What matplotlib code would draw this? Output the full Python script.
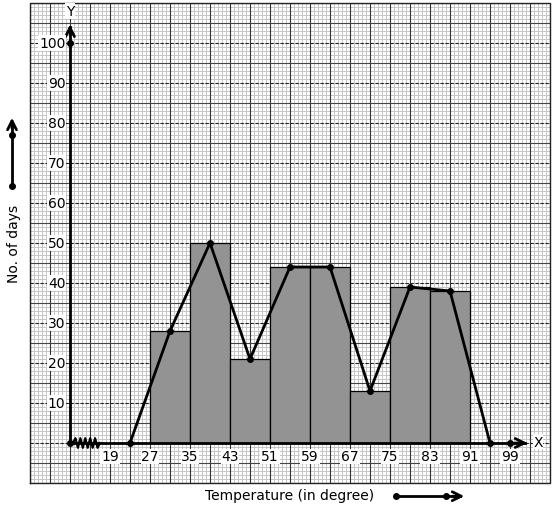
import numpy as np
import matplotlib.pyplot as plt

# class intervals (temperature) and frequencies (no. of days)
edges = [27, 35, 43, 51, 59, 67, 75, 83, 91]
days = [28, 50, 21, 44, 44, 13, 39, 38]
# frequency polygon: class marks plus the empty classes at each end
marks = [23, 31, 39, 47, 55, 63, 71, 79, 87, 95]
poly_days = [0, 28, 50, 21, 44, 44, 13, 39, 38, 0]
xticks = [19, 27, 35, 43, 51, 59, 67, 75, 83, 91, 99]
yticks = [10, 20, 30, 40, 50, 60, 70, 80, 90, 100]

x0 = 11      # where the (broken) x axis starts
xmin, xmax = 3, 107
ymin, ymax = -10, 110

fig = plt.figure(figsize=(5.54, 5.10), dpi=100)
ax = fig.add_axes([30/554, 26/510, 520/554, 480/510])
ax.set_xlim(xmin, xmax)
ax.set_ylim(ymin, ymax)
ax.axis('off')

# graph paper
for v in np.arange(xmin, xmax + 0.01, 0.8):
    ax.axvline(v, color='#c6c6c6', lw=0.7, zorder=0)
for v in np.arange(ymin, ymax + 0.01, 1):
    ax.axhline(v, color='#c6c6c6', lw=0.7, zorder=0)
for v in np.arange(xmin, xmax + 0.01, 4):
    ax.axvline(v, color='#333333', lw=0.8, zorder=0.5)
for v in np.arange(ymin, ymax + 0.01, 5):
    if v % 10 == 0:
        ax.axhline(v, color='#222222', lw=0.8, ls=(0, (3, 1.5)), zorder=0.5)
    else:
        ax.axhline(v, color='#444444', lw=0.8, zorder=0.5)
ax.plot([xmin, xmax, xmax, xmin, xmin], [ymin, ymin, ymax, ymax, ymin],
        color='#222222', lw=1, zorder=0.6, clip_on=False)

# histogram
ax.bar(edges[:-1], days, width=np.diff(edges), align='edge',
       color='#939393', edgecolor='black', lw=0.9, zorder=2)

# axes
ax.plot([x0, 102], [0, 0], color='black', lw=2, zorder=3)
ax.plot([x0, x0], [0, 104], color='black', lw=2, zorder=3)
ax.annotate('', xy=(103, 0), xytext=(99.5, 0),
            arrowprops=dict(arrowstyle='->', lw=2, mutation_scale=16), zorder=3)
ax.annotate('', xy=(x0, 105.3), xytext=(x0, 101.5),
            arrowprops=dict(arrowstyle='->', lw=2, mutation_scale=16), zorder=3)
ax.text(104.6, 0.3, 'X', ha='center', va='center', fontsize=10,
        bbox=dict(fc='white', ec='none', pad=0.5), zorder=4)
ax.text(x0, 108, 'Y', ha='center', va='center', fontsize=10,
        bbox=dict(fc='white', ec='none', pad=0.5), zorder=4)

# kink on the x axis
zx = np.linspace(11.6, 17, 12)
zy = np.array([0] + [1.2, -1.2] * 5 + [0])
ax.plot(zx, zy, color='black', lw=1.6, zorder=3)

# frequency polygon
ax.plot(marks, poly_days, color='black', lw=2, marker='o', ms=4, zorder=4)
ax.plot([x0, 99], [0, 0], 'o', color='black', ms=4, zorder=4)
ax.plot([x0], [100], 'o', color='black', ms=4, zorder=4)

# tick labels
for t in xticks:
    ax.text(t, -3.3, str(t), ha='center', va='center', fontsize=10,
            bbox=dict(fc='white', ec='none', pad=0.5), zorder=4)
for t in yticks:
    ax.text(x0 - 0.9, t, str(t), ha='right', va='center', fontsize=10,
            bbox=dict(fc='white', ec='none', pad=0.5), zorder=4)

# axis titles with their little arrows
ax.text(-0.2, 50, 'No. of days', rotation=90, ha='center', va='center',
        fontsize=10, clip_on=False)
ax.text(55, -13, 'Temperature (in degree)', ha='center', va='center',
        fontsize=10, clip_on=False)
ax.plot([-0.6, -0.6], [64.3, 80], color='black', lw=2, clip_on=False)
ax.plot([-0.6, -0.6], [64.3, 77], 'o', color='black', ms=4, clip_on=False)
ax.annotate('', xy=(-0.6, 82), xytext=(-0.6, 78), annotation_clip=False,
            arrowprops=dict(arrowstyle='->', lw=2, mutation_scale=16))
ax.plot([76.2, 89], [-13.3, -13.3], color='black', lw=2, clip_on=False)
ax.plot([76.2, 86.2], [-13.3, -13.3], 'o', color='black', ms=4, clip_on=False)
ax.annotate('', xy=(90.4, -13.3), xytext=(87, -13.3), annotation_clip=False,
            arrowprops=dict(arrowstyle='->', lw=2, mutation_scale=16))

fig.savefig('out.png', dpi=100)
